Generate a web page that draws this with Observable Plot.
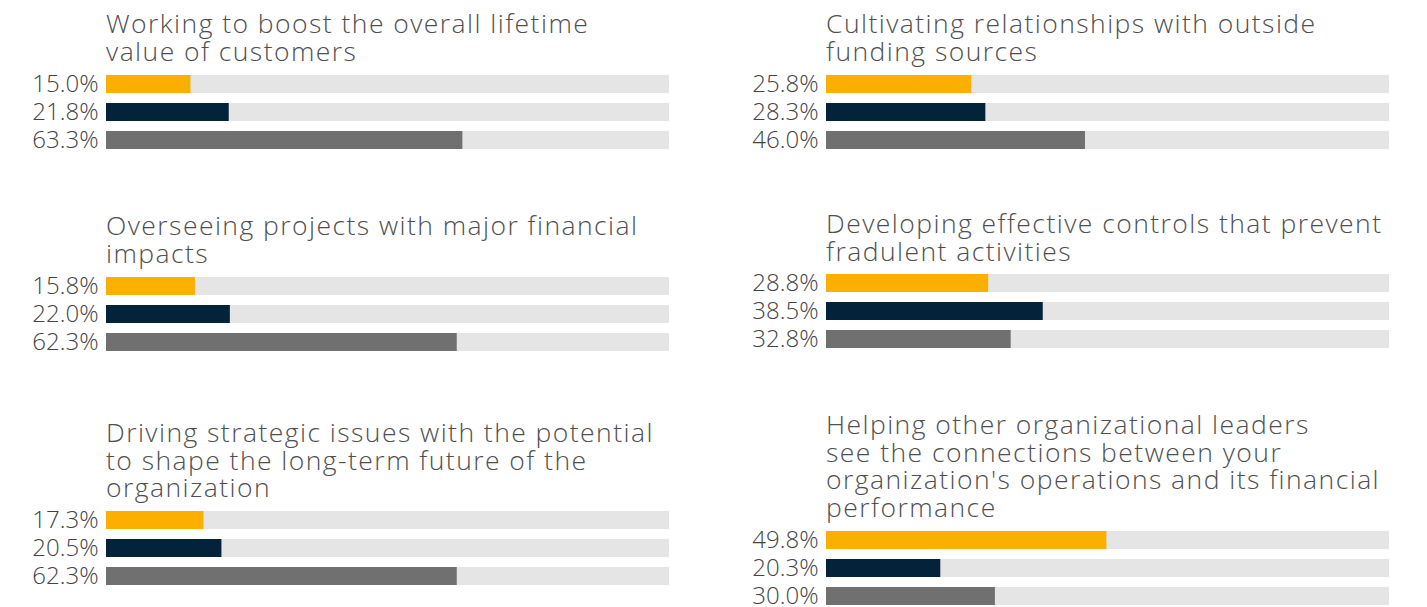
<!DOCTYPE html>
<html>
<head>
<meta charset="utf-8">
<script src="https://cdn.jsdelivr.net/npm/d3@7"></script>
<script src="https://cdn.jsdelivr.net/npm/@observablehq/plot@0.6"></script>
<style>
  html, body { margin: 0; padding: 0; background: #fff; }
  #root { position: relative; width: 1427px; height: 607px; overflow: hidden; font-family: "Open Sans", sans-serif; }
  .title { position: absolute; font-size: 26.5px; line-height: 27.5px; color: #4f4f4f; font-weight: 300; white-space: nowrap; letter-spacing: 1.45px; }
  .plot { position: absolute; overflow: visible; }
</style>
</head>
<body>
<div id="root"></div>
<script>
// ---- data ----
const categories = [
  "Working to boost the overall lifetime\nvalue of customers",
  "Cultivating relationships with outside\nfunding sources",
  "Overseeing projects with major financial\nimpacts",
  "Developing effective controls that prevent\nfradulent activities",
  "Driving strategic issues with the potential\nto shape the long-term future of the\norganization",
  "Helping other organizational leaders\nsee the connections between your\norganization's operations and its financial\nperformance"
];
const seriesNames = ["Series 1", "Series 2", "Series 3"];
const series1 = [15.0, 25.8, 15.8, 28.8, 17.3, 49.8];
const series2 = [21.8, 28.3, 22.0, 38.5, 20.5, 20.3];
const series3 = [63.3, 46.0, 62.3, 32.8, 62.3, 30.0];
const seriesColors = ["#FBB000", "#03233A", "#707070"];
const trackColor = "#E5E5E5";

// ---- layout (panel placement) ----
const panelLeft = [0, 720, 0, 720, 0, 720];
const titleTop = [10, 10, 212, 210, 419, 411];
const barTop = [74, 74, 276, 273, 510, 530];

const root = document.getElementById("root");
const allSeries = [series1, series2, series3];
const pad = 6;

categories.forEach((cat, i) => {
  const t = document.createElement("div");
  t.className = "title";
  t.style.left = (panelLeft[i] + 106) + "px";
  t.style.top = titleTop[i] + "px";
  t.innerText = cat;
  root.appendChild(t);

  const rows = seriesNames.map((s, k) => ({series: s, value: allSeries[k][i], max: 100}));
  const chart = Plot.plot({
    width: 700,
    height: 75 + 2 * pad,
    marginLeft: 106,
    marginRight: 31,
    marginTop: pad,
    marginBottom: pad,
    x: {domain: [0, 100], axis: null},
    y: {domain: seriesNames, axis: null, paddingInner: 0.37, paddingOuter: 0},
    color: {domain: seriesNames, range: seriesColors},
    style: {fontFamily: "'Open Sans', sans-serif", background: "transparent", overflow: "visible"},
    marks: [
      Plot.barX(rows, {x: "max", y: "series", fill: trackColor}),
      Plot.barX(rows, {x: "value", y: "series", fill: "series"}),
      Plot.text(rows, {x: 0, y: "series", text: d => d.value.toFixed(1) + "%", textAnchor: "end", dx: -8, fontSize: 24, fill: "#444", fontWeight: 300, letterSpacing: "2px"})
    ]
  });
  chart.classList.add("plot");
  chart.style.left = panelLeft[i] + "px";
  chart.style.top = (barTop[i] - pad) + "px";
  root.appendChild(chart);
});
</script>
</body>
</html>
